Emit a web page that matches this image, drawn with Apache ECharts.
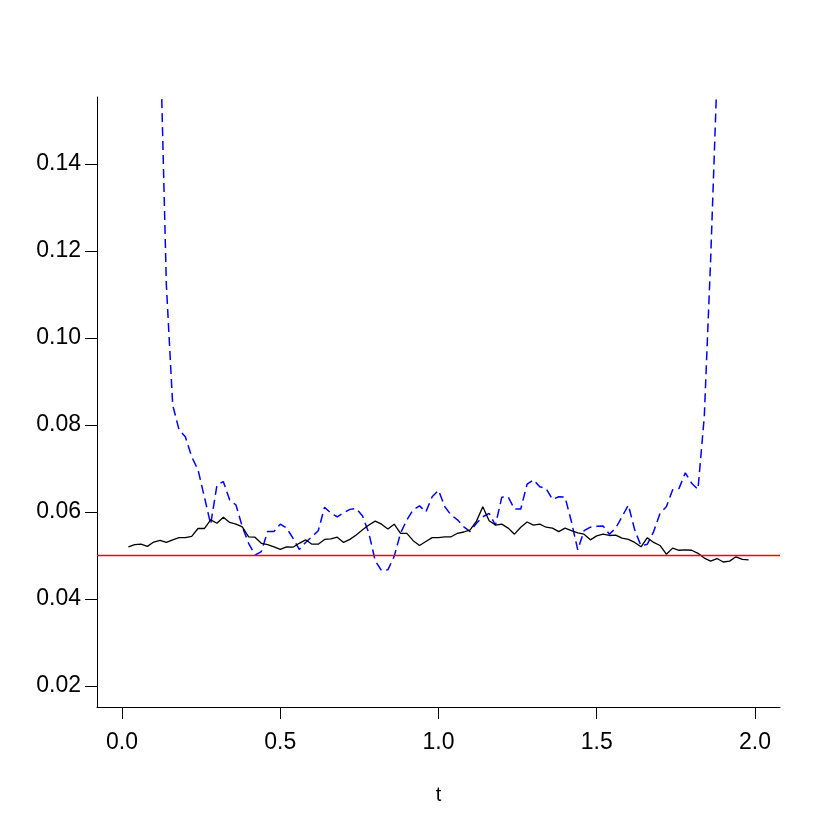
<!DOCTYPE html>
<html>
<head>
<meta charset="utf-8">
<script src="https://cdn.jsdelivr.net/npm/echarts@6/dist/echarts.min.js"></script>
<style>
  html, body { margin: 0; padding: 0; background: #fff; }
  #chart { width: 830px; height: 830px; }
</style>
</head>
<body>
<div id="chart"></div>
<script>
  // time grid shared by both curves
  const tGrid = [
    0.02, 0.04, 0.06, 0.08, 0.10, 0.12, 0.14, 0.16, 0.18, 0.20,
    0.22, 0.24, 0.26, 0.28, 0.30, 0.32, 0.34, 0.36, 0.38, 0.40,
    0.42, 0.44, 0.46, 0.48, 0.50, 0.52, 0.54, 0.56, 0.58, 0.60,
    0.62, 0.64, 0.66, 0.68, 0.70, 0.72, 0.74, 0.76, 0.78, 0.80,
    0.82, 0.84, 0.86, 0.88, 0.90, 0.92, 0.94, 0.96, 0.98, 1.00,
    1.02, 1.04, 1.06, 1.08, 1.10, 1.12, 1.14, 1.16, 1.18, 1.20,
    1.22, 1.24, 1.26, 1.28, 1.30, 1.32, 1.34, 1.36, 1.38, 1.40,
    1.42, 1.44, 1.46, 1.48, 1.50, 1.52, 1.54, 1.56, 1.58, 1.60,
    1.62, 1.64, 1.66, 1.68, 1.70, 1.72, 1.74, 1.76, 1.78, 1.80,
    1.82, 1.84, 1.86, 1.88, 1.90, 1.92, 1.94, 1.96, 1.98
  ];

  // solid black curve
  const blackVals = [
    0.0520, 0.0525, 0.0526, 0.0521, 0.0531, 0.0535, 0.0530, 0.0536, 0.0541, 0.0541,
    0.0544, 0.0562, 0.0562, 0.0582, 0.0574, 0.0588, 0.0576, 0.0572, 0.0566, 0.0543,
    0.0542, 0.0528, 0.0525, 0.0520, 0.0514, 0.0520, 0.0519, 0.0528, 0.0536, 0.0526,
    0.0526, 0.0537, 0.0538, 0.0542, 0.0530, 0.0537, 0.0547, 0.0559, 0.0570, 0.0579,
    0.0572, 0.0561, 0.0572, 0.0551, 0.0551, 0.0534, 0.0523, 0.0532, 0.0541, 0.0541,
    0.0543, 0.0543, 0.0551, 0.0554, 0.0559, 0.0579, 0.0612, 0.0580, 0.0570, 0.0572,
    0.0563, 0.0549, 0.0565, 0.0577, 0.0570, 0.0572, 0.0565, 0.0563, 0.0555, 0.0563,
    0.0557, 0.0552, 0.0549, 0.0536, 0.0545, 0.0549, 0.0546, 0.0547, 0.0540, 0.0537,
    0.0530, 0.0520, 0.0541, 0.0530, 0.0523, 0.0503, 0.0517, 0.0512, 0.0513, 0.0512,
    0.0505, 0.0494, 0.0487, 0.0493, 0.0485, 0.0487, 0.0497, 0.0491, 0.0490
  ];

  // dashed blue curve (runs off the top at both ends)
  const blueVals = [
    null, null, null, null, null, 0.171, 0.1122, 0.0846, 0.0789, 0.0773,
    0.0727, 0.0697, 0.0635, 0.0572, 0.0662, 0.0670, 0.0628, 0.0616, 0.0566, 0.0528,
    0.0501, 0.0509, 0.0555, 0.0555, 0.0572, 0.0563, 0.0540, 0.0514, 0.0530, 0.0543,
    0.0557, 0.0611, 0.0597, 0.0589, 0.0598, 0.0606, 0.0608, 0.0591, 0.0551, 0.0488,
    0.0465, 0.0467, 0.0498, 0.0551, 0.0582, 0.0605, 0.0614, 0.0600, 0.0635, 0.0650,
    0.0612, 0.0593, 0.0582, 0.0566, 0.0555, 0.0574, 0.0589, 0.0597, 0.0570, 0.0634,
    0.0635, 0.0607, 0.0607, 0.0664, 0.0674, 0.0658, 0.0654, 0.0629, 0.0635, 0.0634,
    0.0578, 0.0513, 0.0557, 0.0565, 0.0567, 0.0568, 0.0549, 0.0563, 0.0589, 0.0616,
    0.0559, 0.0522, 0.0526, 0.0555, 0.0597, 0.0612, 0.0651, 0.0654, 0.0690, 0.0666,
    0.0652, 0.082, 0.118, 0.160, null, null, null, null, null
  ];

  const refLevel = 0.05;
  const xTicks = [0, 0.5, 1, 1.5, 2];
  const yTicks = [0.02, 0.04, 0.06, 0.08, 0.10, 0.12, 0.14];
  const xMin = -0.0792, xMax = 2.0792;
  const yMin = 0.01517, yMax = 0.1554;

  const font = '"Liberation Sans", Arial, Helvetica, sans-serif';
  const chart = echarts.init(document.getElementById('chart'));

  chart.setOption({
    animation: false,
    backgroundColor: '#fff',
    color: ['#0000ff', '#000000', '#ff0000'],
    grid: { left: 97, right: 50, top: 97, bottom: 123 },
    xAxis: {
      type: 'value',
      min: xMin,
      max: xMax,
      name: 't',
      nameLocation: 'middle',
      nameGap: 78,
      nameTextStyle: { color: '#000', fontSize: 20, fontFamily: font },
      axisLine: { show: true, onZero: false, lineStyle: { color: '#000', width: 1 } },
      axisTick: { show: true, customValues: xTicks, length: 12, lineStyle: { color: '#000' } },
      axisLabel: {
        customValues: xTicks,
        margin: 24,
        color: '#000',
        fontSize: 23,
        fontFamily: font,
        formatter: v => v.toFixed(1)
      },
      splitLine: { show: false }
    },
    yAxis: {
      type: 'value',
      min: yMin,
      max: yMax,
      axisLine: { show: true, onZero: false, lineStyle: { color: '#000', width: 1 } },
      axisTick: { show: true, customValues: yTicks, length: 12, lineStyle: { color: '#000' } },
      axisLabel: {
        customValues: yTicks,
        margin: 16,
        color: '#000',
        fontSize: 23,
        fontFamily: font,
        formatter: v => v.toFixed(2)
      },
      splitLine: { show: false }
    },
    series: [
      {
        type: 'line',
        data: tGrid.map((t, i) => [t, blueVals[i]]),
        showSymbol: false,
        clip: true,
        connectNulls: false,
        lineStyle: { color: '#0000ff', width: 1.5, type: [9, 5] },
        z: 2
      },
      {
        type: 'line',
        data: tGrid.map((t, i) => [t, blackVals[i]]),
        showSymbol: false,
        clip: true,
        lineStyle: { color: '#000', width: 1.3 },
        z: 3
      },
      {
        // horizontal reference level across the whole plot width
        type: 'line',
        data: [[xMin, refLevel], [xMax, refLevel]],
        showSymbol: false,
        silent: true,
        itemStyle: { color: '#ff0000' },
        lineStyle: { color: '#ff0000', width: 1.6 },
        z: 4
      }
    ]
  });
</script>
</body>
</html>
